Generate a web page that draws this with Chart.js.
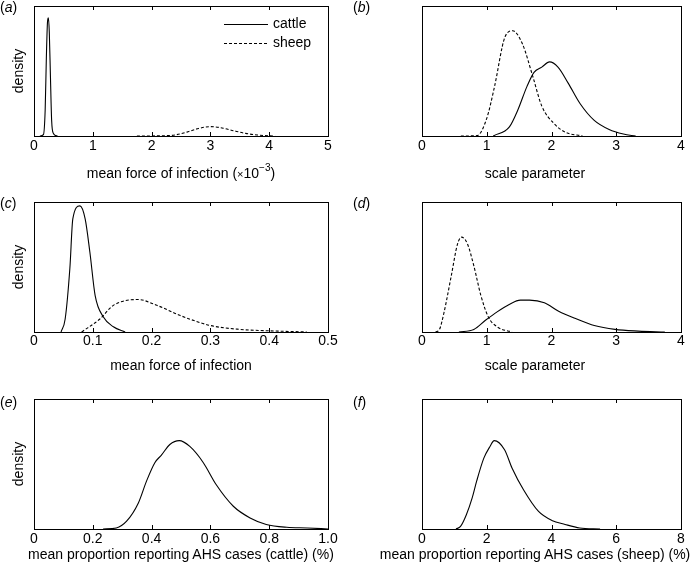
<!DOCTYPE html>
<html>
<head>
<meta charset="utf-8">
<script src="https://cdn.jsdelivr.net/npm/chart.js@4"></script>
<style>
  body { margin: 0; background: #fff; width: 700px; height: 570px; position: relative; overflow: hidden;
         font-family: "Liberation Sans", Arial, sans-serif; }
  .box { position: absolute; width: 350px; height: 190px; }
  .lab { position: absolute; font-size: 14px; line-height: 16px; color: #000; }
  .xt { position: absolute; font-size: 14px; line-height: 16px; color: #000; white-space: nowrap;
        transform: translateX(-50%); }
  .xt sup { font-size: 10px; line-height: 0; position: relative; top: -1px; }
</style>
</head>
<body>
<div class="box" style="left:0;top:0"><canvas id="cA"></canvas></div>
<div class="box" style="left:350px;top:0"><canvas id="cB"></canvas></div>
<div class="box" style="left:0;top:190px"><canvas id="cC"></canvas></div>
<div class="box" style="left:350px;top:190px"><canvas id="cD"></canvas></div>
<div class="box" style="left:0;top:380px"><canvas id="cE"></canvas></div>
<div class="box" style="left:350px;top:380px"><canvas id="cF"></canvas></div>
<div class="lab" style="left:0;top:-1px">(<i>a</i>)</div>
<div class="lab" style="left:353px;top:-1px">(<i>b</i>)</div>
<div class="lab" style="left:0;top:195px">(<i>c</i>)</div>
<div class="lab" style="left:353px;top:195px">(<i>d</i>)</div>
<div class="lab" style="left:0;top:394px">(<i>e</i>)</div>
<div class="lab" style="left:353px;top:394px">(<i>f</i>)</div>
<div class="xt" style="left:181px;top:165px">mean force of infection (<span style="font-size:11px">×</span>10<sup>−3</sup>)</div>
<div class="xt" style="left:535px;top:165px">scale parameter</div>
<div class="xt" style="left:181px;top:357px">mean force of infection</div>
<div class="xt" style="left:535px;top:357px">scale parameter</div>
<div class="xt" style="left:181px;top:546px">mean proportion reporting AHS cases (cattle) (%)</div>
<div class="xt" style="left:535px;top:546px">mean proportion reporting AHS cases (sheep) (%)</div>
<script>
// densities, scaled so the axis top = 1
const cattleA = [[0.1,0],[0.16,0.01],[0.19,0.2],[0.21,0.6],[0.23,0.88],[0.245,0.91],[0.26,0.8],[0.28,0.45],[0.3,0.12],[0.33,0.02],[0.4,0]];
const sheepA = [[1.75,0],[2.2,0.002],[2.4,0.008],[2.6,0.03],[2.8,0.058],[3.0,0.072],[3.2,0.062],[3.4,0.04],[3.6,0.02],[3.8,0.008],[4.0,0.001],[4.1,0]];

const cattleB = [[1.1,0],[1.35,0.07],[1.48,0.2],[1.62,0.38],[1.73,0.49],[1.85,0.53],[1.97,0.57],[2.1,0.53],[2.26,0.405],[2.44,0.25],[2.66,0.12],[2.89,0.05],[3.11,0.015],[3.3,0]];
const sheepB = [[0.6,0],[0.85,0.003],[1.0,0.136],[1.12,0.38],[1.28,0.76],[1.4,0.81],[1.55,0.71],[1.71,0.46],[1.85,0.23],[2.03,0.1],[2.21,0.03],[2.48,0]];

const cattleC = [[0.046,0],[0.053,0.1],[0.061,0.49],[0.066,0.87],[0.078,0.97],[0.087,0.87],[0.095,0.615],[0.104,0.28],[0.118,0.115],[0.135,0.04],[0.155,0]];
const sheepC = [[0.081,0],[0.112,0.1],[0.135,0.205],[0.177,0.25],[0.209,0.205],[0.248,0.128],[0.3,0.05],[0.35,0.02],[0.395,0.01],[0.464,0]];

const cattleD = [[0.57,0],[0.8,0.02],[0.98,0.09],[1.16,0.155],[1.34,0.21],[1.52,0.245],[1.66,0.245],[1.89,0.225],[2.11,0.16],[2.39,0.1],[2.66,0.05],[2.98,0.02],[3.34,0.007],[3.75,0]];
const sheepD = [[0.21,0],[0.27,0.02],[0.34,0.15],[0.455,0.44],[0.545,0.67],[0.61,0.73],[0.7,0.68],[0.8,0.51],[0.91,0.28],[1.025,0.115],[1.16,0.04],[1.39,0]];

const cattleE = [[0.235,0],[0.28,0.008],[0.315,0.06],[0.355,0.2],[0.383,0.37],[0.411,0.51],[0.434,0.57],[0.462,0.65],[0.494,0.68],[0.53,0.635],[0.576,0.51],[0.62,0.34],[0.678,0.175],[0.735,0.085],[0.79,0.035],[0.86,0.013],[0.93,0.008],[1.0,0]];
const sheepF = [[1.05,0],[1.19,0.02],[1.37,0.11],[1.55,0.24],[1.69,0.37],[1.91,0.545],[2.1,0.635],[2.23,0.68],[2.55,0.61],[2.78,0.47],[3.14,0.3],[3.6,0.135],[4.01,0.066],[4.42,0.035],[4.87,0.008],[5.5,0]];

const ticksA = [0, 1, 2, 3, 4, 5];
const ticksB = [0, 1, 2, 3, 4];
const ticksC = [0, 0.1, 0.2, 0.3, 0.4, 0.5];
const ticksE = [0, 0.2, 0.4, 0.6, 0.8, 1.0];
const labelsE = ['0', '0.2', '0.4', '0.6', '0.8', '1.0'];
const ticksF = [0, 2, 4, 6, 8];

const FONT = { family: '"Liberation Sans", Arial, sans-serif', size: 14 };

// box round the plot area with MATLAB-style inward ticks
const framePlugin = {
    id: 'frame',
    afterDatasetsDraw(chart) {
        const { ctx, chartArea: a, scales } = chart;
        ctx.save();
        ctx.strokeStyle = '#000';
        ctx.lineWidth = 1;
        ctx.strokeRect(Math.round(a.left) + 0.5, Math.round(a.top) + 0.5,
            Math.round(a.right - a.left), Math.round(a.bottom - a.top));
        ctx.beginPath();
        scales.x.ticks.forEach(t => {
            const px = Math.round(scales.x.getPixelForValue(t.value)) + 0.5;
            ctx.moveTo(px, a.top); ctx.lineTo(px, a.top + 4);
            ctx.moveTo(px, a.bottom); ctx.lineTo(px, a.bottom - 4);
        });
        ctx.stroke();
        ctx.restore();
    }
};

// legend drawn inside panel (a)
const legendPlugin = {
    id: 'innerLegend',
    afterDatasetsDraw(chart, args, opts) {
        if (!opts.show) return;
        const { ctx, data } = chart;
        ctx.save();
        ctx.font = '14px ' + FONT.family;
        ctx.textBaseline = 'middle';
        ctx.fillStyle = '#000';
        data.datasets.forEach((ds, i) => {
            const y = opts.y + i * 19 + 0.5;
            ctx.beginPath();
            ctx.setLineDash(ds.borderDash || []);
            ctx.lineWidth = 1;
            ctx.strokeStyle = '#000';
            ctx.moveTo(opts.x, y); ctx.lineTo(opts.x + 44, y);
            ctx.stroke();
            ctx.setLineDash([]);
            ctx.fillText(ds.label, opts.x + 49, y);
        });
        ctx.restore();
    }
};

function toPts(arr) { return arr.map(p => ({ x: p[0], y: p[1] })); }

function makePanel(id, cfg) {
    const datasets = cfg.series.map(s => ({
        label: s.label,
        data: toPts(s.data),
        borderColor: '#000',
        borderWidth: 1.1,
        borderDash: s.dashed ? [3, 2] : [],
        pointRadius: 0,
        fill: false,
        cubicInterpolationMode: 'monotone'
    }));
    const padBottom = 20;
    const xHeight = 190 - padBottom - cfg.bottom;
    new Chart(document.getElementById(id), {
        type: 'line',
        data: { datasets },
        options: {
            responsive: false,
            animation: false,
            events: [],
            layout: {
                padding: {
                    top: cfg.top,
                    bottom: padBottom,
                    left: cfg.left ? 0 : 38,
                    right: cfg.left ? 22 : 19
                }
            },
            plugins: {
                legend: { display: false },
                tooltip: { enabled: false },
                innerLegend: { show: !!cfg.legend, x: 224, y: 24 }
            },
            scales: {
                x: {
                    type: 'linear',
                    min: cfg.ticks[0],
                    max: cfg.ticks[cfg.ticks.length - 1],
                    grid: { display: false, drawTicks: false },
                    border: { display: false },
                    afterBuildTicks: s => { s.ticks = cfg.ticks.map(v => ({ value: v })); },
                    afterFit: s => { s.height = xHeight; },
                    ticks: {
                        color: '#000', font: FONT, padding: cfg.tickPad, maxRotation: 0,
                        callback: (v, i) => cfg.labels ? cfg.labels[i] : String(v)
                    },
                    title: { display: false }
                },
                y: {
                    display: cfg.left,
                    min: 0,
                    max: 1,
                    grid: { display: false, drawTicks: false },
                    border: { display: false },
                    ticks: { display: false },
                    afterFit: s => { s.width = 34; },
                    title: { display: true, text: 'density', color: '#000', font: FONT, padding: { top: 11, bottom: 0 } }
                }
            }
        },
        plugins: [framePlugin, legendPlugin]
    });
}

function setSize(id) {
    const c = document.getElementById(id);
    c.width = 350; c.height = 190;
    c.style.width = '350px'; c.style.height = '190px';
}
['cA', 'cB', 'cC', 'cD', 'cE', 'cF'].forEach(setSize);

makePanel('cA', { left: true, top: 6, bottom: 136, tickPad: 2, ticks: ticksA, legend: true,
    series: [{ label: 'cattle', data: cattleA }, { label: 'sheep', data: sheepA, dashed: true }] });
makePanel('cB', { left: false, top: 6, bottom: 136, tickPad: 2, ticks: ticksB,
    series: [{ label: 'cattle', data: cattleB }, { label: 'sheep', data: sheepB, dashed: true }] });
makePanel('cC', { left: true, top: 12, bottom: 142, tickPad: 1, ticks: ticksC,
    series: [{ label: 'cattle', data: cattleC }, { label: 'sheep', data: sheepC, dashed: true }] });
makePanel('cD', { left: false, top: 12, bottom: 142, tickPad: 1, ticks: ticksB,
    series: [{ label: 'cattle', data: cattleD }, { label: 'sheep', data: sheepD, dashed: true }] });
makePanel('cE', { left: true, top: 19, bottom: 149, tickPad: 2, ticks: ticksE, labels: labelsE,
    series: [{ label: 'cattle', data: cattleE }] });
makePanel('cF', { left: false, top: 19, bottom: 149, tickPad: 2, ticks: ticksF,
    series: [{ label: 'sheep', data: sheepF }] });
</script>
</body>
</html>
